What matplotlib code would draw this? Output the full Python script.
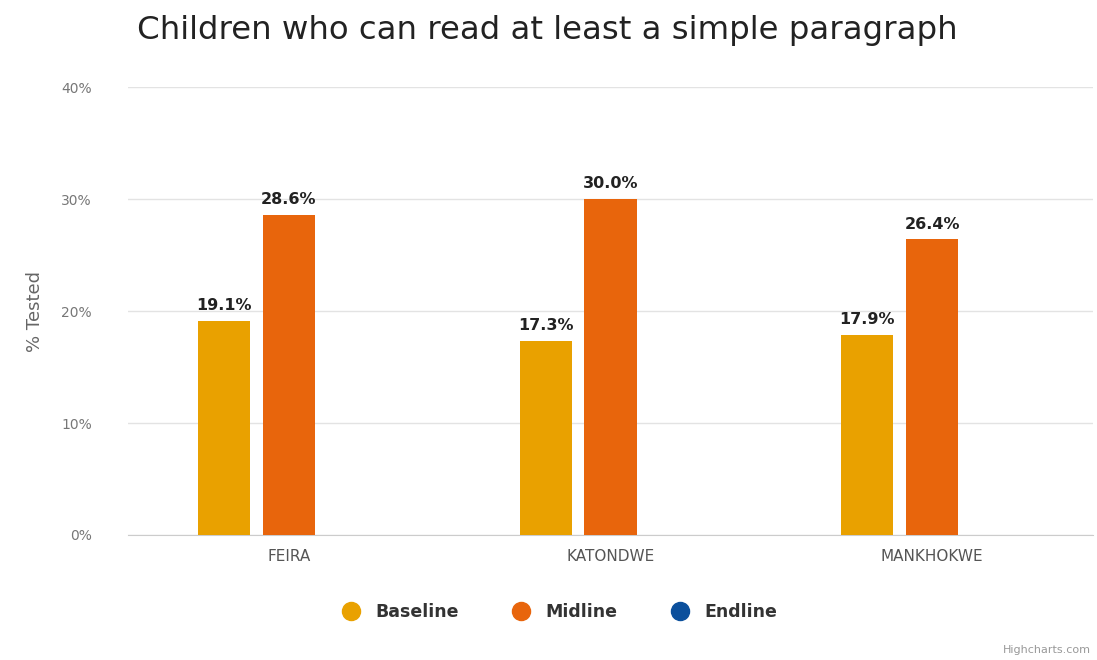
import matplotlib.pyplot as plt
import numpy as np

categories = ['FEIRA', 'KATONDWE', 'MANKHOKWE']
series_names = ['Baseline', 'Midline', 'Endline']
baseline = [19.1, 17.3, 17.9]
midline = [28.6, 30.0, 26.4]
endline = [None, None, None]
colors = ['#E9A100', '#E8650C', '#0B4F9C']

fig = plt.figure(figsize=(10.97, 6.6), dpi=100)
ax = fig.add_axes([0.1167, 0.1894, 0.8797, 0.6786])

x = np.arange(len(categories))
w = 0.162
step = 0.202

for i, (name, vals) in enumerate(zip(series_names, [baseline, midline, endline])):
    pos = x + (i - 1) * step
    if all(v is None for v in vals):
        continue
    bars = ax.bar(pos, vals, width=w, color=colors[i], zorder=3)
    for b, v in zip(bars, vals):
        ax.text(b.get_x() + b.get_width() / 2, v + 0.7, f'{v:.1f}%',
                ha='center', va='bottom', fontsize=11.5, fontweight='bold', color='#222222')

ax.set_xlim(-0.5, 2.5)
ax.set_ylim(0, 40)
ax.set_yticks([0, 10, 20, 30, 40])
ax.set_yticklabels(['0%', '10%', '20%', '30%', '40%'])
ax.set_xticks(x)
ax.set_xticklabels(categories)
ax.grid(axis='y', color='#e3e3e3', linewidth=1, zorder=0)
for s in ['top', 'right', 'left']:
    ax.spines[s].set_visible(False)
ax.spines['bottom'].set_color('#cccccc')
ax.tick_params(axis='y', length=0, pad=26, labelsize=10, labelcolor='#777777')
ax.tick_params(axis='x', length=0, pad=10, labelsize=11, labelcolor='#555555')
ax.set_ylabel('% Tested', fontsize=13, color='#666666', labelpad=12)

fig.text(137 / 1097, 1 - 31 / 660, 'Children who can read at least a simple paragraph',
         fontsize=23.3, color='#222222', va='center', ha='left')

handles = [plt.Line2D([], [], marker='o', linestyle='', markersize=13, color=c) for c in colors]
fig.legend(handles, series_names, loc='center', bbox_to_anchor=(0.506, 1 - 612 / 660),
           ncol=3, frameon=False, prop={'size': 12.5, 'weight': 'bold'},
           handletextpad=0.4, columnspacing=2.6, labelcolor='#333333')

fig.text(1 - 6 / 1097, 1 - 650 / 660, 'Highcharts.com', fontsize=8, color='#999999',
         ha='right', va='center')

fig.savefig('out.png', dpi=100)
